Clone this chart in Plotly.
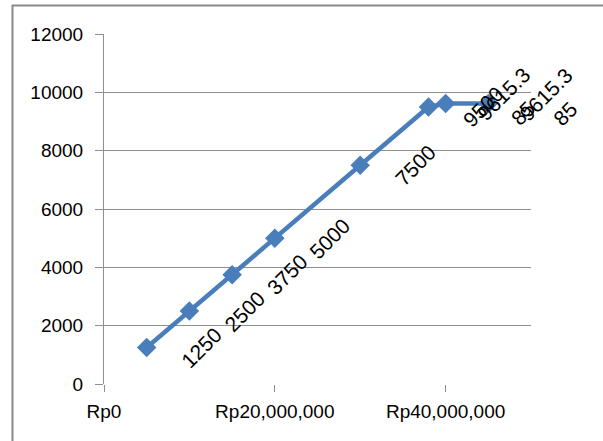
import textwrap
import plotly.graph_objects as go

# Capital (Rupiah) versus output
capital_rp = [5_000_000, 10_000_000, 15_000_000, 20_000_000, 30_000_000,
              38_000_000, 40_000_000, 45_000_000]
output_units = [1250, 2500, 3750, 5000, 7500, 9500, 9615.385, 9615.385]

y_ticks = [0, 2000, 4000, 6000, 8000, 10000, 12000]
x_ticks = [0, 20_000_000, 40_000_000]
x_tick_text = ["Rp0", "Rp20,000,000", "Rp40,000,000"]

FONT = "Liberation Sans, Arial, sans-serif"
BLUE = "#4A7EBB"
GRID = "#8f8f8f"

fig = go.Figure()
fig.add_trace(go.Scatter(
    x=capital_rp, y=output_units, mode="lines+markers",
    line=dict(color=BLUE, width=4.5),
    marker=dict(symbol="diamond", size=15, color=BLUE),
    showlegend=False, hoverinfo="skip",
))

# Rotated data labels placed to the right of each point
for xv, yv in zip(capital_rp, output_units):
    label = str(yv)
    lines = textwrap.wrap(label, 6)
    longest = max(len(s) for s in lines)
    fig.add_annotation(
        x=xv, y=yv, text="<br>".join(lines), showarrow=False,
        textangle=-45, xanchor="center", yanchor="middle",
        xshift=31 + 6 * longest, yshift=0,
        font=dict(family=FONT, size=21, color="#000000"),
    )

# Outer chart border
fig.add_shape(type="rect", xref="paper", yref="paper",
              x0=-0.2143, x1=1.19, y0=-0.18, y1=1.0814,
              line=dict(color="#8a8a8a", width=2), fillcolor="rgba(0,0,0,0)",
              layer="below")

fig.update_layout(
    width=603, height=441,
    margin=dict(l=104, r=72, t=34, b=57),
    paper_bgcolor="white", plot_bgcolor="white",
    font=dict(family=FONT, size=19, color="#000000"),
    xaxis=dict(
        range=[0, 50_000_000], tickvals=x_ticks, ticktext=x_tick_text,
        showgrid=False, zeroline=False, showline=False,
        ticks="outside", ticklen=7, tickcolor=GRID, tickwidth=1,
        ticklabelstandoff=3,
        tickfont=dict(family=FONT, size=19, color="#000000"),
        fixedrange=True,
    ),
    yaxis=dict(
        range=[0, 12000], tickvals=y_ticks, ticktext=[str(v) for v in y_ticks],
        showgrid=True, gridcolor=GRID, gridwidth=1,
        zeroline=False, showline=True, linecolor=GRID, linewidth=1,
        ticks="outside", ticklen=8, tickcolor=GRID, tickwidth=1,
        ticklabelstandoff=8,
        tickfont=dict(family=FONT, size=19, color="#000000"),
        fixedrange=True,
    ),
)

fig.write_html("out.html")
